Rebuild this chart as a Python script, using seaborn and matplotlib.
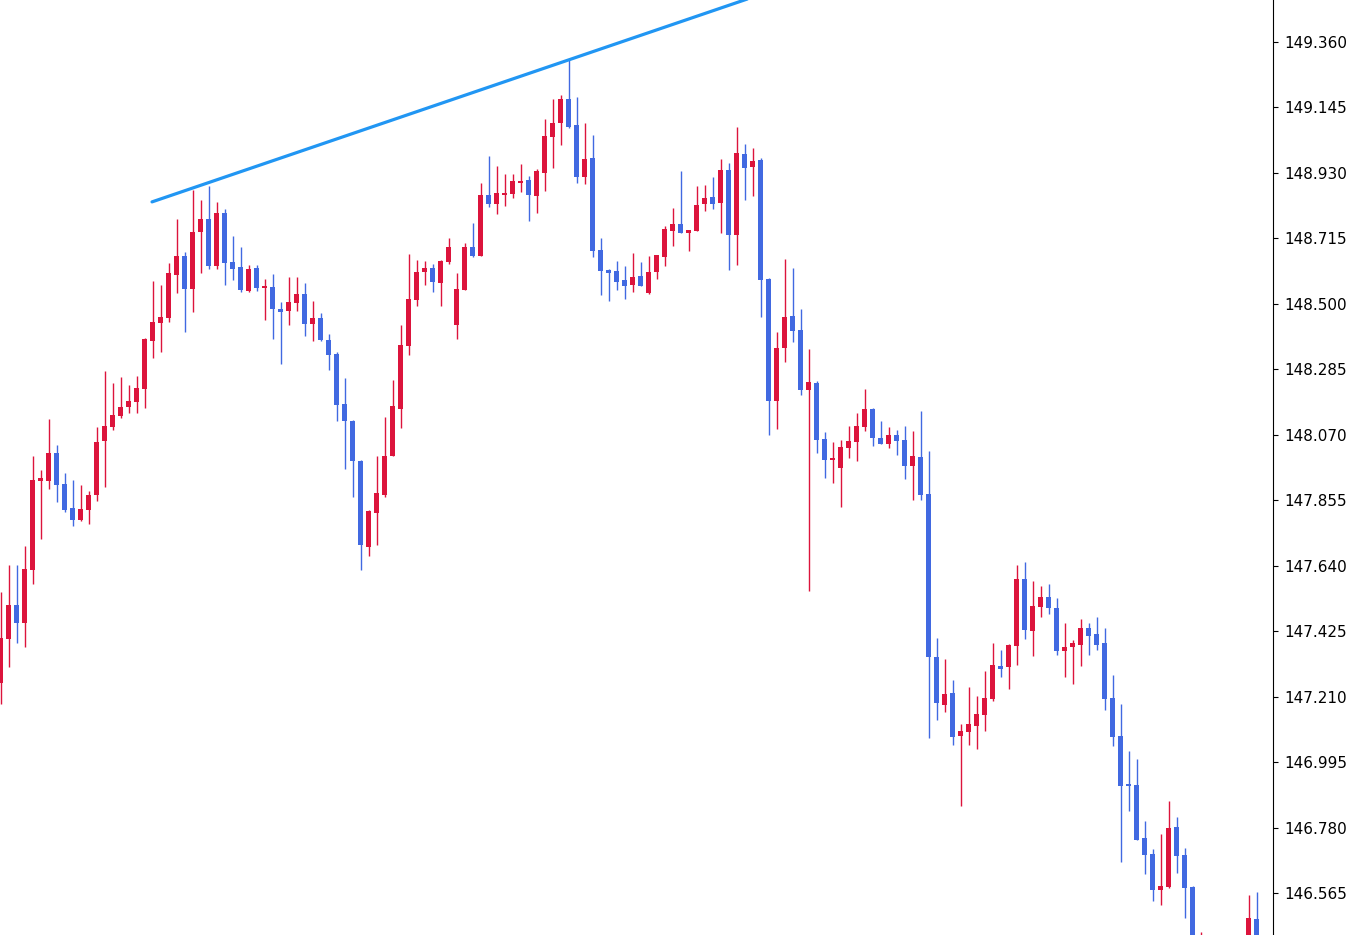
import numpy as np
import pandas as pd
import matplotlib
matplotlib.use("Agg")
import matplotlib.pyplot as plt
import seaborn as sns

# ---- data ----
opens = [147.255, 147.400, 147.511, 147.452, 147.626, 147.918, 147.918, 148.010, 147.908, 147.830,
         147.790, 147.823, 147.872, 148.050, 148.096, 148.132, 148.161, 148.178, 148.221, 148.378,
         148.437, 148.454, 148.595, 148.657, 148.549, 148.736, 148.779, 148.625, 148.799, 148.638,
         148.621, 148.542, 148.618, 148.552, 148.556, 148.483, 148.477, 148.503, 148.532, 148.434,
         148.454, 148.381, 148.336, 148.171, 148.115, 147.984, 147.702, 147.813, 147.872, 148.001,
         148.155, 148.362, 148.513, 148.605, 148.618, 148.569, 148.638, 148.431, 148.546, 148.687,
         148.657, 148.857, 148.828, 148.857, 148.861, 148.897, 148.907, 148.854, 148.930, 149.048,
         149.094, 149.173, 149.088, 148.917, 148.979, 148.677, 148.611, 148.608, 148.579, 148.562,
         148.592, 148.536, 148.605, 148.654, 148.739, 148.762, 148.733, 148.739, 148.828, 148.851,
         148.831, 148.940, 148.726, 148.992, 148.950, 148.973, 148.582, 148.181, 148.355, 148.460,
         148.414, 148.217, 148.240, 148.056, 147.987, 147.961, 148.027, 148.047, 148.096, 148.155,
         148.060, 148.040, 148.070, 148.053, 147.968, 147.997, 147.876, 147.340, 147.183, 147.222,
         147.081, 147.094, 147.114, 147.150, 147.203, 147.311, 147.308, 147.377, 147.597, 147.426,
         147.505, 147.538, 147.501, 147.360, 147.373, 147.380, 147.436, 147.416, 147.386, 147.206,
         147.081, 146.923, 146.920, 146.746, 146.693, 146.575, 146.585, 146.782, 146.690, 146.585,
         146.352, np.nan, np.nan, np.nan, np.nan, np.nan, 146.395, 146.480]
highs = [147.554, 147.643, 147.643, 147.705, 148.001, 147.955, 148.122, 148.037, 147.945, 147.922,
         147.905, 147.885, 148.096, 148.280, 148.240, 148.260, 148.233, 148.263, 148.388, 148.575,
         148.562, 148.634, 148.779, 148.670, 148.874, 148.841, 148.887, 148.835, 148.812, 148.723,
         148.687, 148.628, 148.628, 148.582, 148.598, 148.506, 148.588, 148.588, 148.569, 148.510,
         148.470, 148.401, 148.342, 148.257, 148.118, 147.987, 147.823, 148.001, 148.129, 148.250,
         148.431, 148.664, 148.644, 148.641, 148.631, 148.644, 148.716, 148.601, 148.700, 148.766,
         148.897, 148.986, 148.953, 148.927, 148.927, 148.959, 148.920, 148.943, 149.107, 149.173,
         149.186, 149.301, 149.179, 149.094, 149.055, 148.716, 148.615, 148.641, 148.625, 148.667,
         148.638, 148.657, 148.661, 148.756, 148.815, 148.936, 148.743, 148.887, 148.890, 148.917,
         148.976, 148.963, 149.081, 149.025, 149.012, 148.979, 148.585, 148.408, 148.647, 148.618,
         148.483, 148.352, 148.247, 148.079, 148.047, 148.053, 148.099, 148.142, 148.221, 148.158,
         148.115, 148.096, 148.086, 148.099, 148.083, 148.148, 148.017, 147.403, 147.334, 147.265,
         147.120, 147.242, 147.212, 147.294, 147.386, 147.363, 147.383, 147.643, 147.652, 147.590,
         147.574, 147.580, 147.534, 147.452, 147.396, 147.465, 147.452, 147.472, 147.436, 147.281,
         147.186, 147.032, 147.006, 146.802, 146.710, 146.759, 146.867, 146.815, 146.713, 146.588,
         146.437, np.nan, np.nan, np.nan, np.nan, np.nan, 146.559, 146.569]
lows = [147.186, 147.308, 147.386, 147.373, 147.580, 147.728, 147.892, 147.849, 147.817, 147.771,
        147.787, 147.777, 147.853, 147.899, 148.086, 148.125, 148.142, 148.142, 148.158, 148.323,
        148.342, 148.441, 148.536, 148.408, 148.473, 148.601, 148.615, 148.615, 148.562, 148.579,
        148.539, 148.539, 148.542, 148.447, 148.385, 148.303, 148.431, 148.477, 148.395, 148.378,
        148.378, 148.283, 148.115, 147.958, 147.866, 147.626, 147.672, 147.708, 147.866, 148.001,
        148.092, 148.332, 148.493, 148.562, 148.539, 148.493, 148.631, 148.385, 148.546, 148.654,
        148.657, 148.818, 148.795, 148.822, 148.848, 148.868, 148.772, 148.799, 148.871, 148.946,
        149.022, 149.078, 148.897, 148.894, 148.654, 148.529, 148.510, 148.546, 148.516, 148.539,
        148.559, 148.532, 148.582, 148.625, 148.690, 148.733, 148.674, 148.739, 148.805, 148.812,
        148.733, 148.611, 148.628, 148.841, 148.854, 148.457, 148.070, 148.089, 148.309, 148.375,
        148.201, 147.557, 148.010, 147.928, 147.912, 147.833, 147.994, 147.984, 148.083, 148.033,
        148.040, 148.027, 148.004, 147.925, 147.856, 147.856, 147.074, 147.134, 147.160, 147.051,
        146.851, 147.051, 147.038, 147.097, 147.196, 147.275, 147.235, 147.314, 147.400, 147.344,
        147.472, 147.482, 147.347, 147.275, 147.252, 147.311, 147.347, 147.363, 147.166, 147.048,
        146.667, 146.835, 146.739, 146.628, 146.539, 146.526, 146.582, 146.631, 146.483, 146.378,
        146.329, np.nan, np.nan, np.nan, np.nan, np.nan, 146.378, 146.362]
closes = [147.403, 147.511, 147.452, 147.629, 147.922, 147.928, 148.010, 147.905, 147.823, 147.790,
          147.826, 147.872, 148.047, 148.099, 148.135, 148.161, 148.181, 148.224, 148.385, 148.441,
          148.457, 148.601, 148.657, 148.549, 148.736, 148.779, 148.625, 148.799, 148.634, 148.615,
          148.546, 148.615, 148.552, 148.559, 148.483, 148.473, 148.506, 148.532, 148.434, 148.454,
          148.381, 148.332, 148.168, 148.115, 147.984, 147.708, 147.820, 147.879, 148.001, 148.165,
          148.365, 148.516, 148.605, 148.618, 148.572, 148.641, 148.687, 148.549, 148.687, 148.657,
          148.857, 148.828, 148.864, 148.864, 148.904, 148.904, 148.857, 148.936, 149.051, 149.094,
          149.173, 149.081, 148.917, 148.976, 148.674, 148.608, 148.601, 148.572, 148.559, 148.588,
          148.559, 148.605, 148.661, 148.746, 148.762, 148.733, 148.743, 148.825, 148.848, 148.828,
          148.940, 148.726, 148.996, 148.946, 148.969, 148.579, 148.181, 148.355, 148.457, 148.411,
          148.217, 148.243, 148.053, 147.987, 147.994, 148.030, 148.050, 148.099, 148.155, 148.060,
          148.040, 148.070, 148.050, 147.968, 148.001, 147.872, 147.340, 147.189, 147.219, 147.078,
          147.097, 147.120, 147.153, 147.206, 147.314, 147.301, 147.380, 147.597, 147.429, 147.508,
          147.538, 147.501, 147.360, 147.373, 147.386, 147.436, 147.409, 147.380, 147.203, 147.078,
          146.917, 146.917, 146.739, 146.690, 146.575, 146.588, 146.779, 146.687, 146.582, 146.405,
          146.395, np.nan, np.nan, np.nan, np.nan, np.nan, 146.483, 146.385]

trend_x = [18.94, 95.0]
trend_y = [148.835, 149.516]

y_ticks = [146.565, 146.780, 146.995, 147.210, 147.425, 147.640, 147.855,
           148.070, 148.285, 148.500, 148.715, 148.930, 149.145, 149.360]

# ---- styling ----
UP = "#DC143C"
DOWN = "#4169E1"
LINE = "#2196F3"

sns.set_style("white")
plt.rcParams["font.family"] = ["DejaVu Sans"]

df = pd.DataFrame({"open": opens, "high": highs, "low": lows, "close": closes})
df["idx"] = np.arange(len(df))
df = df.dropna().reset_index(drop=True)
df["up"] = df["close"] >= df["open"]
df["color"] = np.where(df["up"], UP, DOWN)
df["body_lo"] = df[["open", "close"]].min(axis=1)
df["body_h"] = (df["close"] - df["open"]).abs().clip(lower=0.0034)

W, H = 1349, 935
fig = plt.figure(figsize=(W / 100, H / 100), dpi=100)
ax = fig.add_axes([0, 0, 1273 / W, 1])

# wicks
ax.vlines(df["idx"], df["low"], df["high"], colors=df["color"], linewidth=1.0, zorder=2)
# bodies
ax.bar(df["idx"], df["body_h"], bottom=df["body_lo"], width=0.62,
       color=df["color"], linewidth=0, zorder=3)

# trend line
sns.lineplot(x=trend_x, y=trend_y, ax=ax, color=LINE, linewidth=2.3, zorder=4)

# axes
ax.set_xlim(-0.0625, (1273 - 0.5) / 8)
ax.set_ylim(149.498 - 0.003284 * 935, 149.498)
ax.set_xticks([])
ax.yaxis.tick_right()
ax.set_yticks(y_ticks)
ax.set_yticklabels([f"{v:.3f}" for v in y_ticks])
ax.tick_params(axis="y", which="both", right=True, left=False, length=3.5, width=0.8,
               pad=5, labelsize=11, colors="black")
for s in ["top", "left", "bottom"]:
    ax.spines[s].set_visible(False)
ax.spines["right"].set_visible(True)
ax.spines["right"].set_color("black")
ax.spines["right"].set_linewidth(0.8)
ax.set_facecolor("white")
fig.patch.set_facecolor("white")

fig.savefig("out.png", dpi=100, facecolor="white")
